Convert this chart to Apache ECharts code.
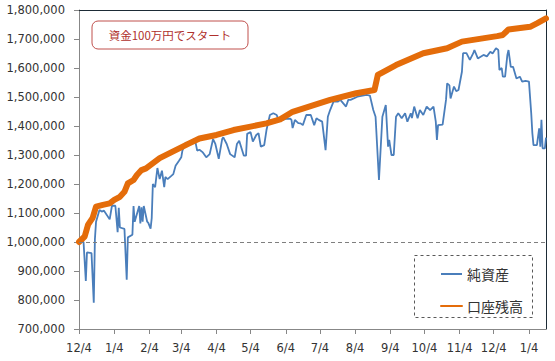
<!DOCTYPE html>
<html><head><meta charset="utf-8">
<script src="https://cdn.jsdelivr.net/npm/echarts@6/dist/echarts.min.js"></script>
<style>html,body{margin:0;padding:0;background:#fff}#c{width:555px;height:361px}</style>
</head><body><div id="c"></div>
<script>
const seriesNames = ['純資産', '口座残高'];
const startDate = '2014-12-04';
const endDate = '2016-01-19';
const xTickDates = ['2014-12-04','2015-01-04','2015-02-04','2015-03-04','2015-04-04','2015-05-04','2015-06-04','2015-07-04','2015-08-04','2015-09-04','2015-10-04','2015-11-04','2015-12-04','2016-01-04'];
const yMin = 700000, yMax = 1800000, yStep = 100000;
const baseLine = 1000000;
const noteText = '資金100万円でスタート';

const netDates = ['2014-12-04','2014-12-05','2014-12-08','2014-12-10','2014-12-11','2014-12-15','2014-12-17','2014-12-18','2014-12-19','2014-12-22','2014-12-24','2014-12-26','2014-12-31',
'2015-01-02','2015-01-05','2015-01-07','2015-01-08','2015-01-09','2015-01-13','2015-01-15','2015-01-16','2015-01-20','2015-01-21','2015-01-22','2015-01-26','2015-01-27','2015-01-28','2015-01-29','2015-01-30',
'2015-02-02','2015-02-03','2015-02-05','2015-02-06','2015-02-07','2015-02-09','2015-02-11','2015-02-13','2015-02-15','2015-02-17','2015-02-18','2015-02-20','2015-02-23','2015-02-25','2015-02-27',
'2015-03-02','2015-03-04','2015-03-05','2015-03-08','2015-03-10','2015-03-13','2015-03-16','2015-03-18','2015-03-20','2015-03-23','2015-03-26','2015-03-29',
'2015-04-01','2015-04-03','2015-04-06','2015-04-09','2015-04-10','2015-04-13','2015-04-16','2015-04-20','2015-04-22','2015-04-24','2015-04-28','2015-04-30',
'2015-05-01','2015-05-04','2015-05-06','2015-05-09','2015-05-11','2015-05-13','2015-05-16','2015-05-18','2015-05-21','2015-05-24','2015-05-27','2015-05-28',
'2015-06-01','2015-06-04','2015-06-08','2015-06-09','2015-06-10','2015-06-12','2015-06-15','2015-06-17','2015-06-19','2015-06-22','2015-06-26','2015-06-29',
'2015-07-01','2015-07-03','2015-07-06','2015-07-09','2015-07-11','2015-07-13','2015-07-16','2015-07-20','2015-07-22','2015-07-27','2015-07-29','2015-07-31',
'2015-08-06','2015-08-14','2015-08-17','2015-08-20','2015-08-22','2015-08-25','2015-08-28','2015-08-31',
'2015-09-02','2015-09-03','2015-09-05','2015-09-07','2015-09-09','2015-09-11','2015-09-14','2015-09-17','2015-09-19','2015-09-22','2015-09-23','2015-09-25','2015-09-28','2015-09-30',
'2015-10-03','2015-10-06','2015-10-09','2015-10-12','2015-10-14','2015-10-15','2015-10-16','2015-10-20','2015-10-23','2015-10-24','2015-10-26','2015-10-27','2015-10-30',
'2015-11-01','2015-11-03','2015-11-06','2015-11-07','2015-11-10','2015-11-13','2015-11-16','2015-11-17','2015-11-20','2015-11-25','2015-11-28',
'2015-12-01','2015-12-03','2015-12-06','2015-12-08','2015-12-09','2015-12-11','2015-12-12','2015-12-14','2015-12-16','2015-12-17','2015-12-19','2015-12-21','2015-12-24','2015-12-27','2015-12-29',
'2016-01-01','2016-01-04','2016-01-06','2016-01-07','2016-01-08','2016-01-11','2016-01-13','2016-01-14','2016-01-15','2016-01-16','2016-01-18','2016-01-19'];
const netValues = [1000000,1005000,1000000,866000,964000,962000,791000,1010000,1070000,1110000,1105000,1108000,1078000,
1125000,1125000,1034000,1118000,1050000,1045000,870000,1016000,1025000,1124000,1070000,1124000,1064000,1120000,1070000,1124000,
1070000,1066000,1046000,1082000,1200000,1189000,1255000,1217000,1246000,1189000,1224000,1217000,1227000,1234000,1263000,
1280000,1292000,1315000,1344000,1335000,1345000,1355000,1315000,1318000,1309000,1292000,1303000,
1355000,1338000,1287000,1355000,1361000,1338000,1303000,1292000,1338000,1349000,1298000,1298000,
1373000,1379000,1346000,1369000,1375000,1329000,1334000,1386000,1438000,1444000,1438000,1427000,
1420000,1425000,1425000,1421000,1393000,1421000,1410000,1409000,1403000,1438000,1438000,1403000,
1427000,1421000,1415000,1317000,1432000,1455000,1484000,1484000,1490000,1467000,1490000,1490000,
1501000,1507000,1505000,1455000,1432000,1214000,1432000,1472000,
1329000,1352000,1300000,1300000,1432000,1444000,1427000,1444000,1415000,1444000,1427000,1467000,1427000,1455000,
1438000,1467000,1455000,1467000,1415000,1352000,1403000,1405000,1490000,1547000,1540000,1495000,1536000,
1520000,1524000,1587000,1651000,1651000,1628000,1651000,1662000,1633000,1645000,1640000,
1656000,1650000,1668000,1662000,1593000,1600000,1570000,1570000,1645000,1662000,1604000,1604000,1564000,1570000,1553000,
1556000,1553000,1444000,1375000,1334000,1334000,1392000,1329000,1421000,1323000,1323000,1360000];

const balDates = ['2014-12-04','2014-12-09','2014-12-12','2014-12-16','2014-12-19','2014-12-25','2014-12-31','2015-01-04','2015-01-09','2015-01-13','2015-01-16','2015-01-21','2015-01-24','2015-01-28','2015-02-01','2015-02-13','2015-02-24','2015-03-11','2015-03-20','2015-04-04','2015-04-19','2015-05-04','2015-05-18','2015-05-30','2015-06-10','2015-07-13','2015-08-05','2015-08-21','2015-08-24','2015-08-29','2015-09-09','2015-10-03','2015-10-24','2015-11-06','2015-12-07','2015-12-12','2015-12-17','2016-01-05','2016-01-11','2016-01-19'];
const balValues = [1000000,1019000,1060000,1083000,1122000,1128000,1133000,1145000,1156000,1173000,1202000,1214000,1231000,1248000,1254000,1289000,1311000,1340000,1357000,1369000,1386000,1398000,1409000,1423000,1449000,1490000,1513000,1524000,1576000,1587000,1610000,1651000,1668000,1691000,1710000,1714000,1733000,1742000,1754000,1771000];

const pd = s => +echarts.number.parseDate(s);
const tickVals = xTickDates.map(pd);
const fmtX = v => { const d = new Date(v); return (d.getMonth() + 1) + '/' + d.getDate(); };
const fmtY = v => String(v).replace(/\B(?=(\d{3})+(?!\d))/g, ',');
const axisGray = '#878787';
const labelFont = { color: '#333', fontSize: 11.5, fontFamily: 'DejaVu Sans' };

const chart = echarts.init(document.getElementById('c'), null, { renderer: 'svg' });
chart.setOption({
  animation: false,
  grid: { left: 79, right: 9, top: 10, bottom: 32, outerBoundsMode: 'none' },
  xAxis: [{
    type: 'value', min: pd(startDate), max: pd(endDate), scale: true,
    axisLine: { lineStyle: { color: axisGray, width: 1 } },
    axisTick: { show: true, customValues: tickVals, length: 5, lineStyle: { color: axisGray } },
    axisLabel: Object.assign({ customValues: tickVals, formatter: fmtX, margin: 13, hideOverlap: false }, labelFont),
    splitLine: { show: false }
  }, {
    type: 'value', position: 'top', min: 0, max: 1,
    axisLine: { show: true, lineStyle: { color: '#1d2b36', width: 1 } },
    axisTick: { show: false }, axisLabel: { show: false }, splitLine: { show: false }
  }],
  yAxis: [{
    type: 'value', min: yMin, max: yMax, interval: yStep,
    axisLine: { show: true, lineStyle: { color: axisGray, width: 1 } },
    axisTick: { show: true, length: 5, lineStyle: { color: axisGray } },
    axisLabel: Object.assign({ formatter: fmtY, margin: 14 }, labelFont),
    splitLine: { show: false }
  }, {
    type: 'value', position: 'right', min: 0, max: 1,
    axisLine: { show: true, lineStyle: { color: '#1d2b36', width: 1 } },
    axisTick: { show: false }, axisLabel: { show: false }, splitLine: { show: false }
  }],
  legend: {
    data: seriesNames, orient: 'vertical', left: 435, top: 262,
    itemWidth: 21, itemHeight: 14, itemGap: 18,
    itemStyle: { color: 'rgba(0,0,0,0)', borderWidth: 0, opacity: 0 },
    textStyle: { fontSize: 14, color: '#333', fontFamily: 'Noto Sans CJK JP' }
  },
  series: [{
    name: seriesNames[0], type: 'line', symbol: 'none', showSymbol: false,
    data: netDates.map((d, i) => [pd(d), netValues[i]]),
    lineStyle: { color: '#4a7ebb', width: 1.8 }, itemStyle: { color: '#4a7ebb' },
    markLine: {
      silent: true, symbol: 'none', label: { show: false },
      lineStyle: { color: '#7f7f7f', width: 1, type: [4, 3] },
      data: [{ yAxis: baseLine }]
    }
  }, {
    name: seriesNames[1], type: 'line', symbol: 'none', showSymbol: false,
    data: balDates.map((d, i) => [pd(d), balValues[i]]),
    lineStyle: { color: '#e46c0a', width: 6, cap: 'round', join: 'round' }, itemStyle: { color: '#e46c0a' }
  }],
  graphic: [{
    type: 'rect', shape: { x: 92, y: 21, width: 156, height: 28, r: 6 },
    style: { fill: '#fff', stroke: '#c0504d', lineWidth: 1 }, z: 10
  }, {
    type: 'text', x: 170, y: 35, z: 11,
    style: { text: noteText, fill: '#b0302c', font: '11.5px "Noto Sans CJK JP"', textAlign: 'center', textVerticalAlign: 'middle' }
  }, {
    type: 'rect', shape: { x: 414.5, y: 255.5, width: 118, height: 62 },
    style: { fill: 'none', stroke: '#595959', lineWidth: 1, lineDash: [3, 3] }, z: 10
  }]
});
</script></body></html>
